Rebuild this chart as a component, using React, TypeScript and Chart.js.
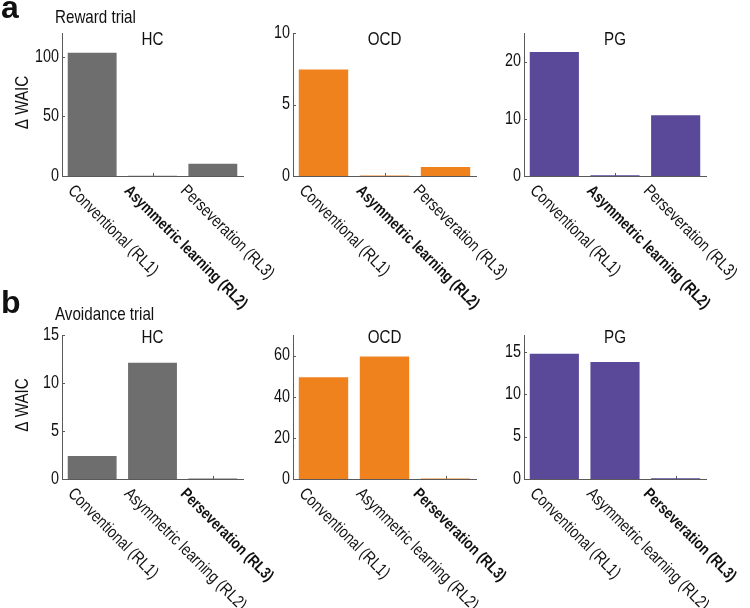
import React, { useEffect, useRef } from "react";
import { Chart, registerables } from "chart.js";

Chart.register(...registerables);

// ---------- data ----------
const MODEL_LABELS = ["Conventional (RL1)", "Asymmetric learning (RL2)", "Perseveration (RL3)"];
const GROUPS = ["HC", "OCD", "PG"];
const GROUP_COLORS = ["#6e6e6e", "#f0821e", "#5a4898"];

const ROW_TITLES = ["Reward trial", "Avoidance trial"];
const ROW_LETTERS = ["a", "b"];
const Y_TITLE = "\u0394 WAIC";

const REWARD_HC = [103.4, 0.3, 10.2];
const REWARD_OCD = [7.45, 0.04, 0.63];
const REWARD_PG = [21.7, 0.12, 10.6];
const AVOID_HC = [2.4, 12.1, 0.05];
const AVOID_OCD = [49.5, 59.6, 0.3];
const AVOID_PG = [14.8, 13.8, 0.1];

const REWARD_TICKS = [[0, 50, 100], [0, 5, 10], [0, 10, 20]];
const REWARD_MAX = [120, 10, 25];
const AVOID_TICKS = [[0, 5, 10, 15], [0, 20, 40, 60], [0, 5, 10, 15]];
const AVOID_MAX = [15, 70, 17];

const REWARD_BEST = 1;
const AVOID_BEST = 2;

// ---------- layout / style ----------
const W = 750;
const H = 608;
const PLOT_LEFT = [62, 293, 524];
const PLOT_RIGHT = [243, 476, 706];
const ROW_TOP = [33, 335];
const ROW_BOTTOM = [176, 479];
const TITLE_BASELINE = [45, 343];
const ROW_TITLE_BASELINE = [23, 320];
const ROW_LETTER_BASELINE = [18, 313];

const FONT = "'Liberation Sans', Arial, sans-serif";
const SQUASH = 0.82; // condensed (narrow) look of the original lettering
const TEXT = "#111111";
const AXIS = "#5a5a5a";

type Panel = {
  row: number;
  col: number;
  values: number[];
  ticks: number[];
  max: number;
  best: number;
};

const ROW_VALUES = [
  [REWARD_HC, REWARD_OCD, REWARD_PG],
  [AVOID_HC, AVOID_OCD, AVOID_PG],
];
const ROW_TICKS = [REWARD_TICKS, AVOID_TICKS];
const ROW_MAX = [REWARD_MAX, AVOID_MAX];
const ROW_BEST = [REWARD_BEST, AVOID_BEST];

const PANELS: Panel[] = [];
for (let r = 0; r < 2; r++) {
  for (let c = 0; c < 3; c++) {
    PANELS.push({
      row: r,
      col: c,
      values: ROW_VALUES[r][c],
      ticks: ROW_TICKS[r][c],
      max: ROW_MAX[r][c],
      best: ROW_BEST[r],
    });
  }
}

function drawText(
  ctx: CanvasRenderingContext2D,
  text: string,
  x: number,
  y: number,
  font: string,
  align: CanvasTextAlign,
  baseline: CanvasTextBaseline,
  angle = 0,
  sx = SQUASH
) {
  ctx.save();
  ctx.translate(x, y);
  if (angle) ctx.rotate(angle);
  ctx.scale(sx, 1);
  ctx.font = font;
  ctx.textAlign = align;
  ctx.textBaseline = baseline;
  ctx.fillStyle = TEXT;
  ctx.fillText(text, 0, 0);
  ctx.restore();
}

function makeChart(canvas: HTMLCanvasElement, p: Panel) {
  const L = PLOT_LEFT[p.col];
  const R = PLOT_RIGHT[p.col];
  const T = ROW_TOP[p.row];
  const B = ROW_BOTTOM[p.row];

  const decor = {
    id: "panelDecor" + p.row + p.col,
    beforeDatasetsDraw(chart: any) {
      const ctx = chart.ctx;
      const xs = chart.scales.x;
      const ys = chart.scales.y;
      const area = chart.chartArea;
      ctx.save();
      ctx.strokeStyle = AXIS;
      ctx.lineWidth = 1;
      ctx.beginPath();
      for (let i = 0; i < MODEL_LABELS.length; i++) {
        const x = Math.round(xs.getPixelForTick(i)) + 0.5;
        ctx.moveTo(x, area.bottom);
        ctx.lineTo(x, area.bottom - 3);
      }
      for (const v of p.ticks) {
        const y = Math.round(ys.getPixelForValue(v)) + 0.5;
        ctx.moveTo(area.left, y);
        ctx.lineTo(area.left + 3, y);
      }
      ctx.stroke();
      ctx.restore();
    },
    afterDraw(chart: any) {
      const ctx = chart.ctx;
      const xs = chart.scales.x;
      const ys = chart.scales.y;
      const area = chart.chartArea;

      // y tick labels
      for (const v of p.ticks) {
        drawText(ctx, String(v), area.left - 3, ys.getPixelForValue(v), `17.5px ${FONT}`, "right", "middle");
      }

      // panel title
      drawText(
        ctx,
        GROUPS[p.col],
        (area.left + area.right) / 2,
        TITLE_BASELINE[p.row],
        `18.5px ${FONT}`,
        "center",
        "alphabetic"
      );

      // rotated category labels
      MODEL_LABELS.forEach((lab, i) => {
        const px = xs.getPixelForTick(i);
        drawText(
          ctx,
          lab,
          px - 25 - 4 * i,
          area.bottom + 15.5,
          i === p.best ? `bold 16px ${FONT}` : `17px ${FONT}`,
          "left",
          "alphabetic",
          Math.PI / 4
        );
      });

      if (p.col === 0) {
        drawText(
          ctx,
          Y_TITLE,
          22.5,
          (area.top + area.bottom) / 2 - 2,
          `18.5px ${FONT}`,
          "center",
          "middle",
          -Math.PI / 2
        );
        drawText(ctx, ROW_LETTERS[p.row], 1, ROW_LETTER_BASELINE[p.row], `bold 32px ${FONT}`, "left", "alphabetic", 0, 1);
        drawText(ctx, ROW_TITLES[p.row], 55, ROW_TITLE_BASELINE[p.row], `18.5px ${FONT}`, "left", "alphabetic");
      }
    },
  };

  return new Chart(canvas, {
    type: "bar",
    data: {
      labels: MODEL_LABELS,
      datasets: [
        {
          data: p.values,
          backgroundColor: GROUP_COLORS[p.col],
          borderWidth: 0,
          barPercentage: 0.81,
          categoryPercentage: 1,
        },
      ],
    },
    options: {
      animation: false,
      responsive: false,
      devicePixelRatio: 1,
      layout: { padding: { left: 0, top: T, right: W - R, bottom: 0 } },
      plugins: {
        legend: { display: false },
        tooltip: { enabled: false },
        title: { display: false },
      },
      scales: {
        x: {
          offset: true,
          ticks: { display: false },
          grid: { display: false, drawTicks: false },
          border: { display: true, color: AXIS, width: 1 },
          afterFit: (s: any) => {
            s.height = H - B;
          },
        },
        y: {
          min: 0,
          max: p.max,
          ticks: { display: false },
          grid: { display: false, drawTicks: false },
          border: { display: true, color: AXIS, width: 1 },
          afterBuildTicks: (s: any) => {
            s.ticks = p.ticks.map((v) => ({ value: v }));
          },
          afterFit: (s: any) => {
            s.width = L;
          },
        },
      },
    } as any,
    plugins: [decor],
  });
}

export default function App() {
  const refs = useRef<(HTMLCanvasElement | null)[]>([]);

  useEffect(() => {
    const charts = PANELS.map((p, i) => makeChart(refs.current[i] as HTMLCanvasElement, p));
    return () => {
      charts.forEach((c) => c.destroy());
    };
  }, []);

  return (
    <div
      style={{
        position: "absolute",
        left: 0,
        top: 0,
        width: W,
        height: H,
        background: "#ffffff",
        overflow: "hidden",
      }}
    >
      {PANELS.map((_, i) => (
        <canvas
          key={i}
          ref={(el) => {
            refs.current[i] = el;
          }}
          width={W}
          height={H}
          style={{ position: "absolute", left: 0, top: 0 }}
        />
      ))}
    </div>
  );
}
